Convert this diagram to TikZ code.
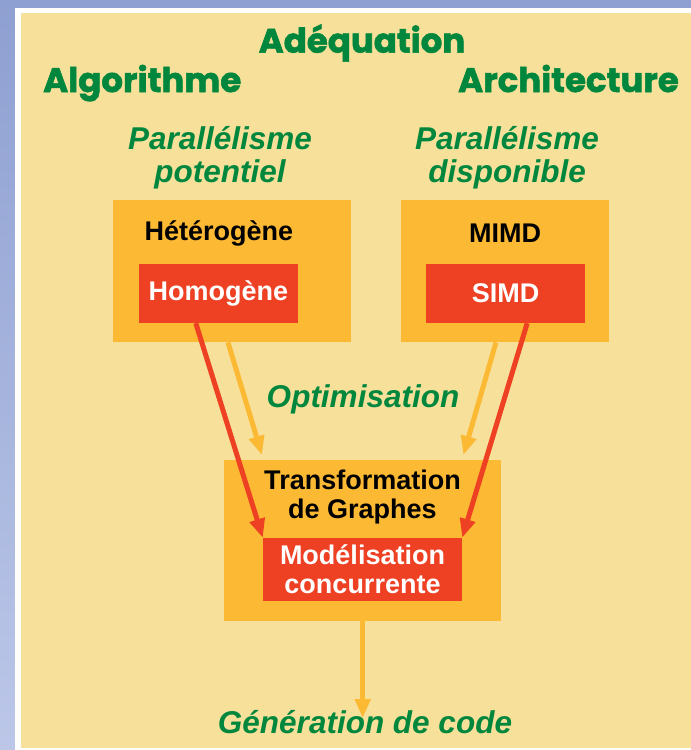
\documentclass[tikz,border=0pt]{standalone}
\usepackage{fontspec}
\setmainfont{Liberation Sans}
\newfontfamily\titlefont{Poppins}[BoldFeatures={FakeBold=1.6}]
\usetikzlibrary{arrows.meta,positioning}
\definecolor{fondbleu}{HTML}{8E9FD1}
\definecolor{fondbleuclair}{HTML}{BCC7E8}
\definecolor{fondjaune}{HTML}{F7E09A}
\definecolor{orange}{HTML}{FCB934}
\definecolor{rouge}{HTML}{EE4023}
\definecolor{vert}{HTML}{00873D}
\tikzset{
  titre/.style={text=vert, font=\titlefont\bfseries\fontsize{34}{36}\selectfont, inner sep=0pt},
  soustitre/.style={text=vert, font=\bfseries\itshape\fontsize{31.5}{33}\selectfont, align=center, inner sep=0pt},
  boite/.style={fill=orange, anchor=north west, inner sep=0pt},
  cadre/.style={fill=rouge, text=white, font=\bfseries\fontsize{27}{29}\selectfont, align=center, inner sep=0pt},
  texte/.style={text=black, font=\bfseries\fontsize{27}{29}\selectfont, align=center, inner sep=0pt},
  fleche/.style={line width=5pt, -{Triangle[length=19pt,width=15pt]}},
}
\begin{document}
\begin{tikzpicture}[x=1pt,y=-1pt]
  \useasboundingbox (0,0) rectangle (691,750);
  % fond
  \shade[top color=fondbleu, bottom color=fondbleuclair] (0,0) rectangle (691,750);
  \fill[white] (15,8) rectangle (691,750);
  \fill[fondjaune] (21,13) rectangle (691,748);
  % titres
  \node[titre] (adeq) at (362,43) {Adéquation};
  \node[titre, anchor=base west] (algo) at (43,92) {Algorithme};
  \node[titre, anchor=base east] (archi) at (679,92) {Architecture};
  \node[soustitre] (potentiel) at (220,158) {Parallélisme\\potentiel};
  \node[soustitre] (dispo) at (507,158) {Parallélisme\\disponible};
  % boites du haut
  \node[boite, minimum width=238, minimum height=142] (gauche) at (113,200) {};
  \node[texte] (hetero) at (219,233) {Hétérogène};
  \node[cadre, minimum width=159, minimum height=59] (homog) at (218.5,293.5) {Homogène};
  \node[boite, minimum width=208, minimum height=142] (droite) at (401,200) {};
  \node[texte] (mimd) at (505,233) {MIMD};
  \node[cadre, minimum width=159, minimum height=59] (simd) at (505.5,293.5) {SIMD};
  % boite du bas
  \node[boite, minimum width=277, minimum height=161] (bas) at (224,460) {};
  \node[texte] (transfo) at (362.5,497) {Transformation\\de Graphes};
  \node[cadre, minimum width=199, minimum height=63] (model) at (362.5,569.5) {Modélisation\\concurrente};
  \node[soustitre] (optim) at (363,399) {Optimisation};
  \node[soustitre] (gen) at (365,722) {Génération de code};
  % fleches
  \draw[fleche, orange] ([xshift=115pt]gauche.south west) -- ([xshift=38pt,yshift=5pt]bas.north west);
  \draw[fleche, orange] ([xshift=95pt]droite.south west) -- ([xshift=-38pt,yshift=5pt]bas.north east);
  \draw[fleche, rouge] ([xshift=57pt]homog.south west) -- (model.north west);
  \draw[fleche, rouge] ([xshift=-58pt]simd.south east) -- (model.north east);
  \draw[fleche, orange] (bas.south) -- ([yshift=-8pt]bas.south |- gen.north);
\end{tikzpicture}
\end{document}
